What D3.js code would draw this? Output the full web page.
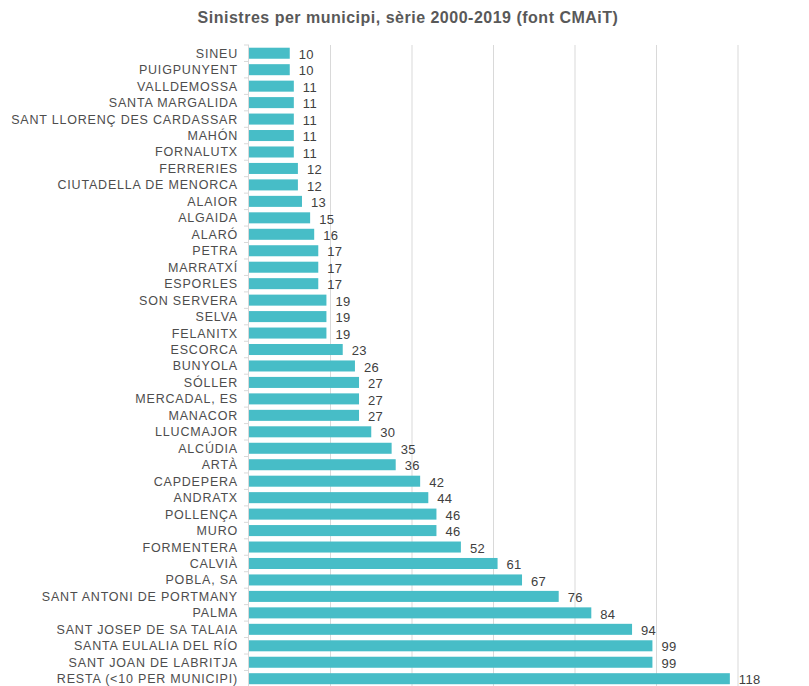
<!DOCTYPE html>
<html>
<head>
<meta charset="utf-8">
<script src="https://cdn.jsdelivr.net/npm/d3@7"></script>
<style>
  body { margin: 0; background: #fff; }
  svg { display: block; }
</style>
</head>
<body>
<svg id="chart" width="809" height="686"></svg>
<script>
// data
var municipis = ["SINEU", "PUIGPUNYENT", "VALLDEMOSSA", "SANTA MARGALIDA", "SANT LLORENÇ DES CARDASSAR",
    "MAHÓN", "FORNALUTX", "FERRERIES", "CIUTADELLA DE MENORCA", "ALAIOR", "ALGAIDA", "ALARÓ", "PETRA",
    "MARRATXÍ", "ESPORLES", "SON SERVERA", "SELVA", "FELANITX", "ESCORCA", "BUNYOLA", "SÓLLER",
    "MERCADAL, ES", "MANACOR", "LLUCMAJOR", "ALCÚDIA", "ARTÀ", "CAPDEPERA", "ANDRATX", "POLLENÇA",
    "MURO", "FORMENTERA", "CALVIÀ", "POBLA, SA", "SANT ANTONI DE PORTMANY", "PALMA",
    "SANT JOSEP DE SA TALAIA", "SANTA EULALIA DEL RÍO", "SANT JOAN DE LABRITJA", "RESTA (<10 PER MUNICIPI)"];
var sinistres = [10, 10, 11, 11, 11, 11, 11, 12, 12, 13, 15, 16, 17, 17, 17, 19, 19, 19, 23, 26, 27,
    27, 27, 30, 35, 36, 42, 44, 46, 46, 52, 61, 67, 76, 84, 94, 99, 99, 118];
var gridTicks = [0, 20, 40, 60, 80, 100, 120];

var svg = d3.select("#chart");
var margin = { left: 249, right: 71, top: 45, bottom: 0 };
var width = 809, height = 686;

var data = municipis.map(function (m, i) { return { name: m, value: sinistres[i] }; });

var x = d3.scaleLinear().domain([0, 120]).range([margin.left, width - margin.right]);
var y = d3.scaleBand().domain(municipis).range([margin.top, margin.top + municipis.length * 16.46])
    .paddingInner(0.33).paddingOuter(0.165);

// title
svg.append("text")
    .attr("x", 408).attr("y", 23)
    .attr("text-anchor", "middle")
    .attr("font-family", "Liberation Sans, Arial, sans-serif")
    .attr("font-size", 16).attr("font-weight", "bold")
    .attr("letter-spacing", 0.5)
    .attr("fill", "#595959")
    .text("Sinistres per municipi, sèrie 2000-2019 (font CMAiT)");

// vertical gridlines
svg.append("g").selectAll("line")
    .data(gridTicks.slice(1))
    .enter().append("line")
    .attr("x1", function (d) { return x(d); }).attr("x2", function (d) { return x(d); })
    .attr("y1", margin.top).attr("y2", height)
    .attr("stroke", "#d9d9d9").attr("stroke-width", 1);

// bars
svg.append("g").selectAll("rect")
    .data(data)
    .enter().append("rect")
    .attr("x", x(0))
    .attr("y", function (d) { return y(d.name); })
    .attr("width", function (d) { return x(d.value) - x(0); })
    .attr("height", y.bandwidth())
    .attr("fill", "#47bdc7");

// y axis line and ticks between categories
var step = y.step();
var yAxis = svg.append("g");
yAxis.append("line")
    .attr("x1", x(0) - 0.5).attr("x2", x(0) - 0.5)
    .attr("y1", margin.top).attr("y2", height)
    .attr("stroke", "#d9d9d9");
yAxis.selectAll("line.tick")
    .data(d3.range(municipis.length + 1))
    .enter().append("line").attr("class", "tick")
    .attr("x1", x(0) - 5).attr("x2", x(0))
    .attr("y1", function (i) { return margin.top + i * step; })
    .attr("y2", function (i) { return margin.top + i * step; })
    .attr("stroke", "#d9d9d9");

// category labels
svg.append("g").selectAll("text")
    .data(data)
    .enter().append("text")
    .attr("x", x(0) - 11)
    .attr("y", function (d) { return y(d.name) + y.bandwidth() / 2; })
    .attr("dy", "0.36em")
    .attr("text-anchor", "end")
    .attr("font-family", "Liberation Sans, Arial, sans-serif")
    .attr("font-size", 12.5)
    .attr("letter-spacing", 0.8)
    .attr("fill", "#4d4d4d")
    .text(function (d) { return d.name; });

// value labels
svg.append("g").selectAll("text")
    .data(data)
    .enter().append("text")
    .attr("x", function (d) { return x(d.value) + 9; })
    .attr("y", function (d) { return y(d.name) + y.bandwidth() / 2 + 1; })
    .attr("dy", "0.36em")
    .attr("font-family", "Liberation Sans, Arial, sans-serif")
    .attr("font-size", 13)
    .attr("letter-spacing", 0.3)
    .attr("fill", "#404040")
    .text(function (d) { return d.value; });
</script>
</body>
</html>
